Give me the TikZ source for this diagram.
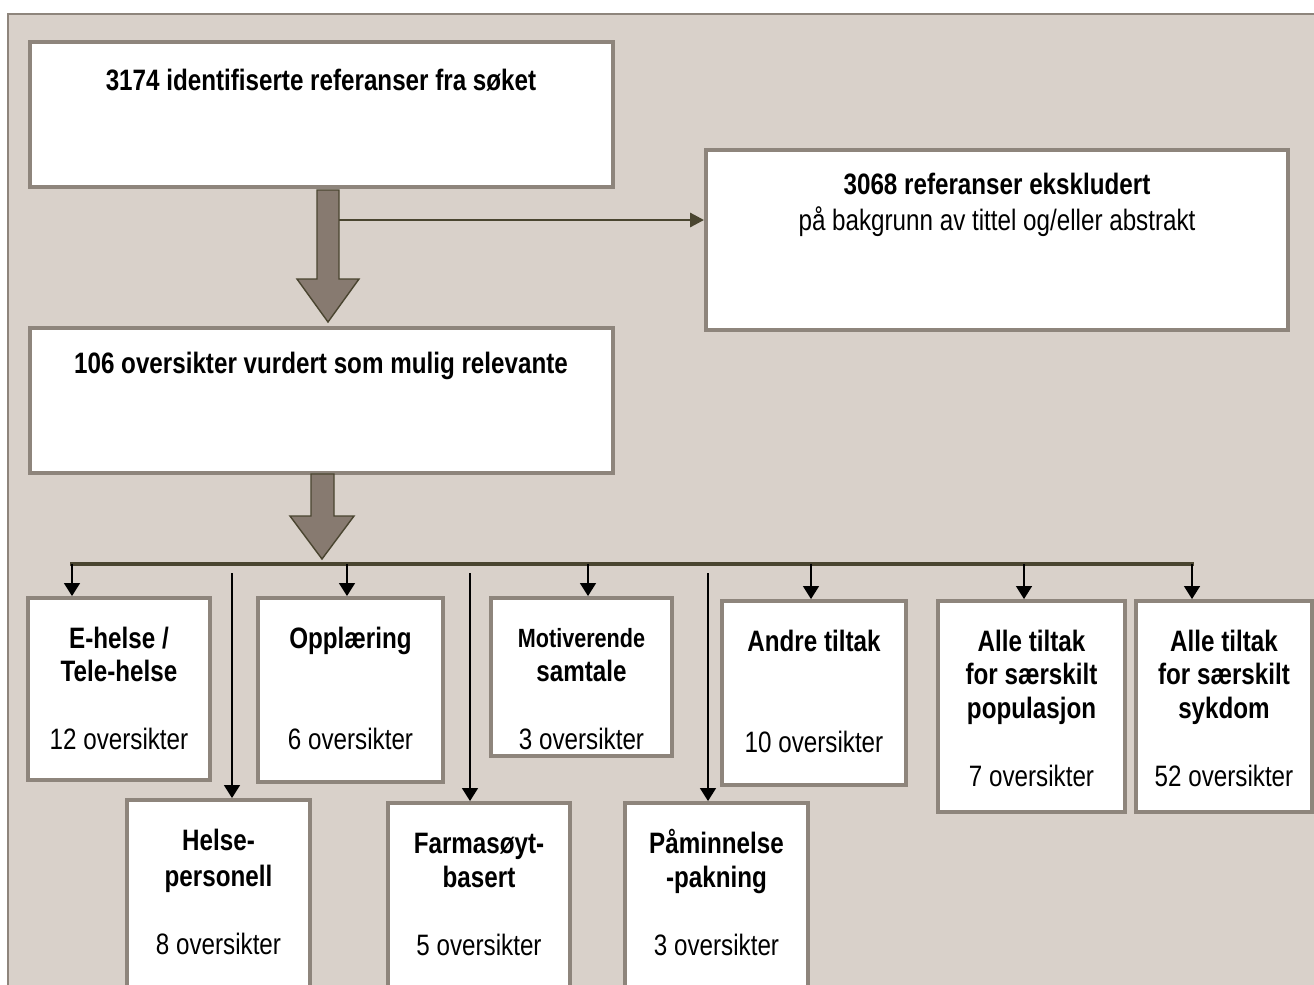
\documentclass[tikz,border=0pt]{standalone}
\usepackage{fontspec}
\setmainfont{Liberation Sans}[FakeStretch=0.82]
\usetikzlibrary{fit, arrows.meta}

\definecolor{panel}{HTML}{D9D1CA}
\definecolor{frame}{HTML}{8E857C}
\definecolor{blockfill}{HTML}{877A70}
\definecolor{olive}{HTML}{4A4530}

\begin{document}
\begin{tikzpicture}[x=0.02cm, y=-0.02cm, thick,
    box/.style={draw=frame, line width=2.2pt, fill=white, inner sep=0pt},
    title/.style={font=\bfseries\fontsize{16.8}{19.3}\selectfont, align=center},
    boxtext/.style={anchor=north, inner sep=0pt, align=center,
        font=\fontsize{16.8}{19.3}\selectfont},
    block/.style={fill=blockfill, draw=olive, line width=0.8pt},
    branch/.style={draw=olive, line width=2.3pt},
    tip/.style={-{Triangle[length=7.4pt, width=9pt]}, black, line width=1.1pt}]
    \useasboundingbox (0,0) rectangle (1314,984);
    \draw[fill=panel, draw=frame, line width=1.2pt] (8,14) rectangle (1330,1000);

    % top part
    \node[box, fit={(30,42) (613,187)}] (search) {};
    \node[title] (searchtxt) at (321,80) {3174 identifiserte referanser fra søket};
    \node[box, fit={(706,150) (1288,330)}] (excl) {};
    \node[align=center, font=\fontsize{16.8}{20.5}\selectfont] (excltxt) at (997,205)
        {\textbf{3068 referanser ekskludert}\\på bakgrunn av tittel og/eller abstrakt};
    \node[box, fit={(30,328) (613,473)}] (review) {};
    \node[title] (reviewtxt) at (321,366) {106 oversikter vurdert som mulig relevante};

    \draw[block] (317,190) -- (339,190) -- (339,279) -- (359,279) -- (328,322)
        -- (297,279) -- (317,279) -- cycle;
    \coordinate (split) at (339,220);
    \draw[-{Triangle[length=8pt, width=8pt]}, olive, line width=1.7pt] (split) -- (split -| excl.west);

    \draw[block] (311,474) -- (334,474) -- (334,516) -- (354,516) -- (322,559)
        -- (290,516) -- (311,516) -- cycle;

    % categories, upper row
    \node[box, fit={(28,598) (210,780)}] (ehelse) {};
    \node[boxtext] (ehelsetxt) at ([yshift=-17pt]ehelse.north)
        {\textbf{E-helse /}\\\textbf{Tele-helse}\\[19.3pt]12 oversikter};
    \node[box, fit={(258,598) (443,782)}] (opplaering) {};
    \node[boxtext] (opplaeringtxt) at ([yshift=-17pt]opplaering.north)
        {\textbf{Opplæring}\\[38.6pt]6 oversikter};
    \node[box, fit={(491,598) (672,756)}] (motiv) {};
    \node[boxtext] (motivtxt) at ([yshift=-18pt]motiv.north)
        {{\bfseries\fontsize{15}{19.3}\selectfont Motiverende}\\\textbf{samtale}\\[19.3pt]3 oversikter};
    \node[box, fit={(722,601) (906,785)}] (andre) {};
    \node[boxtext] (andretxt) at ([yshift=-17pt]andre.north)
        {\textbf{Andre tiltak}\\[38.6pt]10 oversikter};
    \node[box, fit={(938,601) (1125,812)}] (populasjon) {};
    \node[boxtext] (populasjontxt) at ([yshift=-17pt]populasjon.north)
        {\textbf{Alle tiltak}\\\textbf{for særskilt}\\\textbf{populasjon}\\[19.3pt]7 oversikter};
    \node[box, fit={(1136,601) (1312,812)}] (sykdom) {};
    \node[boxtext] (sykdomtxt) at ([yshift=-17pt]sykdom.north)
        {\textbf{Alle tiltak}\\\textbf{for særskilt}\\\textbf{sykdom}\\[19.3pt]52 oversikter};

    % categories, lower row
    \node[box, fit={(127,800) (310,988)}] (helsepers) {};
    \node[boxtext] (helseperstxt) at ([yshift=-17pt]helsepers.north)
        {\textbf{Helse-}\\[1.5pt]\textbf{personell}\\[19.3pt]8 oversikter};
    \node[box, fit={(388,803) (570,988)}] (farmasoyt) {};
    \node[boxtext] (farmasoyttxt) at ([yshift=-18pt]farmasoyt.north)
        {\textbf{Farmasøyt-}\\\textbf{basert}\\[19.3pt]5 oversikter};
    \node[box, fit={(625,803) (808,988)}] (paaminn) {};
    \node[boxtext] (paaminntxt) at ([yshift=-15.5pt]paaminn.north)
        {\textbf{Påminnelse}\\\textbf{-pakning}\\[19.3pt]3 oversikter};

    % branches
    \draw[branch] (70,564) -- (1194,564);
    \coordinate (t1) at (72,564);
    \coordinate (t2) at (347,564);
    \coordinate (t3) at (588,564);
    \coordinate (t4) at (811,564);
    \coordinate (t5) at (1024,564);
    \coordinate (t6) at (1192,564);
    \draw[tip] (t1) -- (t1 |- ehelse.north);
    \draw[tip] (t2) -- (t2 |- opplaering.north);
    \draw[tip] (t3) -- (t3 |- motiv.north);
    \draw[tip] (t4) -- (t4 |- andre.north);
    \draw[tip] (t5) -- (t5 |- populasjon.north);
    \draw[tip] (t6) -- (t6 |- sykdom.north);

    \coordinate (l1) at (232,573);
    \coordinate (l2) at (470,573);
    \coordinate (l3) at (708,573);
    \draw[tip] (l1) -- (l1 |- helsepers.north);
    \draw[tip] (l2) -- (l2 |- farmasoyt.north);
    \draw[tip] (l3) -- (l3 |- paaminn.north);
\end{tikzpicture}
\end{document}
